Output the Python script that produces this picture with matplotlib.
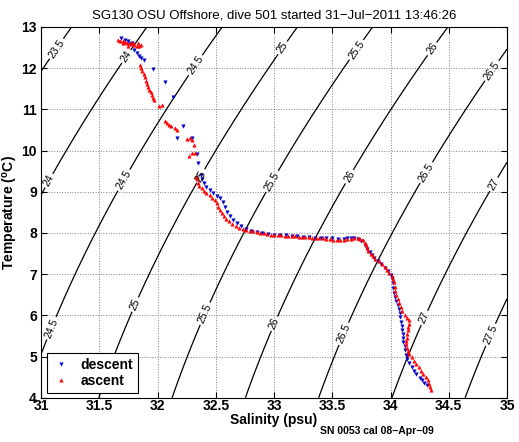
import matplotlib
matplotlib.use("Agg")
import matplotlib.pyplot as plt
import numpy as np

plt.rcParams["font.family"] = ["Liberation Sans", "DejaVu Sans"]

# descent (blue, downward triangles): salinity (psu), temperature (degC)
descent_s = [31.69, 31.72, 31.75, 31.78, 31.76, 31.80, 31.82, 31.84, 31.86, 31.88,
             31.96, 32.06, 32.13, 32.22, 32.17, 32.30, 32.34, 32.35,
             32.37, 32.38, 32.40, 32.42, 32.45, 32.48, 32.51, 32.54, 32.56, 32.58,
             32.60, 32.62, 32.65, 32.68, 32.72, 32.76, 32.80, 32.85, 32.90, 32.95,
             33.00, 33.05, 33.10, 33.15, 33.20, 33.25, 33.30, 33.35, 33.40, 33.45,
             33.50, 33.55, 33.60, 33.63, 33.66, 33.69, 33.72, 33.75, 33.78, 33.80,
             33.82, 33.84, 33.86, 33.89, 33.92, 33.95, 33.98, 34.00, 34.01, 34.02,
             34.02, 34.03, 34.04, 34.05, 34.06, 34.07, 34.08, 34.08, 34.09, 34.10,
             34.10, 34.11, 34.11, 34.11, 34.12, 34.12, 34.13, 34.14, 34.16, 34.18,
             34.20, 34.22, 34.25, 34.27, 34.29, 34.31]
descent_t = [12.72, 12.68, 12.66, 12.62, 12.58, 12.45, 12.38, 12.30, 12.25, 12.20,
             11.98, 11.67, 11.30, 10.60, 10.30, 10.31, 9.92, 9.70,
             9.40, 9.30, 9.22, 9.12, 9.05, 8.97, 8.90, 8.84, 8.75, 8.62,
             8.52, 8.42, 8.32, 8.24, 8.16, 8.10, 8.06, 8.03, 8.00, 7.98,
             7.96, 7.95, 7.94, 7.93, 7.92, 7.91, 7.90, 7.89, 7.88, 7.88,
             7.87, 7.86, 7.86, 7.88, 7.89, 7.89, 7.86, 7.80, 7.70, 7.60,
             7.54, 7.46, 7.40, 7.33, 7.24, 7.16, 7.08, 6.98, 6.90, 6.78,
             6.66, 6.55, 6.45, 6.35, 6.25, 6.15, 6.05, 5.95, 5.85, 5.75,
             5.65, 5.55, 5.45, 5.35, 5.25, 5.15, 5.05, 4.95, 4.85, 4.75,
             4.65, 4.57, 4.48, 4.42, 4.37, 4.32]

# ascent (red, upward triangles)
ascent_s = [31.66, 31.68, 31.70, 31.72, 31.74, 31.76, 31.78, 31.80, 31.82, 31.84,
            31.70, 31.75, 31.79, 31.83, 31.86,
            31.85, 31.86, 31.87, 31.88, 31.89, 31.90, 31.91, 31.92, 31.93, 31.94,
            31.95, 31.96, 31.97, 32.01, 32.04, 32.06, 32.08, 32.10, 32.12, 32.15,
            32.17, 32.25, 32.28, 32.30, 32.31, 32.32, 32.27, 32.30,
            32.33, 32.34, 32.35, 32.36, 32.38, 32.40, 32.42, 32.45, 32.47, 32.49,
            32.51, 32.52, 32.54, 32.55, 32.57, 32.59, 32.61, 32.64, 32.67, 32.70,
            32.73, 32.76, 32.79, 32.82, 32.85, 32.88, 32.91, 32.94, 32.97, 33.00,
            33.03, 33.06, 33.09, 33.12, 33.15, 33.18, 33.21, 33.24, 33.27, 33.30,
            33.33, 33.36, 33.39, 33.42, 33.45, 33.48, 33.51, 33.54, 33.57, 33.60,
            33.63, 33.66, 33.69, 33.72, 33.74, 33.76, 33.78, 33.79, 33.80, 33.81,
            33.83, 33.85, 33.87, 33.90, 33.93, 33.95, 33.97, 33.99, 34.01, 34.02,
            34.03, 34.04, 34.04, 34.05, 34.06, 34.07, 34.09, 34.10, 34.12, 34.14,
            34.16, 34.16, 34.15, 34.15, 34.14, 34.14, 34.13, 34.13, 34.14, 34.15,
            34.16, 34.18, 34.20, 34.22, 34.24, 34.26, 34.28, 34.30, 34.32, 34.33,
            34.34, 34.35]
ascent_t = [12.68, 12.66, 12.65, 12.64, 12.62, 12.60, 12.58, 12.56, 12.55, 12.53,
            12.60, 12.55, 12.62, 12.60, 12.57,
            12.08, 12.00, 11.92, 11.85, 11.78, 11.70, 11.62, 11.55, 11.48, 11.42,
            11.35, 11.28, 11.22, 11.08, 11.10, 10.72, 10.68, 10.62, 10.60, 10.56,
            10.50, 10.28, 10.30, 10.26, 10.14, 9.94, 9.87, 9.94,
            9.36, 9.30, 9.22, 9.15, 9.08, 9.02, 8.97, 8.92, 8.86, 8.80,
            8.72, 8.64, 8.56, 8.49, 8.42, 8.35, 8.29, 8.22, 8.17, 8.13,
            8.10, 8.08, 8.06, 8.04, 8.02, 8.00, 7.99, 7.97, 7.96, 7.95,
            7.95, 7.94, 7.93, 7.93, 7.92, 7.92, 7.91, 7.91, 7.90, 7.90,
            7.89, 7.89, 7.88, 7.87, 7.86, 7.85, 7.84, 7.83, 7.83, 7.84,
            7.85, 7.86, 7.87, 7.88, 7.86, 7.82, 7.76, 7.70, 7.63, 7.56,
            7.49, 7.43, 7.37, 7.31, 7.25, 7.18, 7.11, 7.04, 6.96, 6.88,
            6.80, 6.70, 6.60, 6.50, 6.40, 6.30, 6.20, 6.10, 6.02, 5.94,
            5.88, 5.80, 5.72, 5.64, 5.55, 5.46, 5.38, 5.30, 5.22, 5.14,
            5.06, 4.98, 4.90, 4.82, 4.74, 4.66, 4.58, 4.50, 4.42, 4.34,
            4.26, 4.20]

sigma_levels = [23.5, 24, 24.5, 25, 25.5, 26, 26.5, 27, 27.5]
label_spots = [(31.12, 12.5), (31.75, 12.25), (32.32, 12.08), (33.07, 12.5),
               (33.68, 12.5), (34.34, 12.5), (34.94, 11.8),
               (31.08, 9.25), (31.7, 9.3), (32.36, 9.4), (32.96, 9.29),
               (33.62, 9.41), (34.34, 9.41), (34.85, 9.24),
               (31.08, 5.7), (31.72, 6.37), (32.36, 6.1), (32.92, 5.9),
               (33.52, 5.65), (34.29, 5.94), (34.76, 5.65)]


def sigma_t(s, t):
    # UNESCO EOS-80 density at surface pressure, minus 1000
    rho_w = (999.842594 + 6.793952e-2 * t - 9.095290e-3 * t**2 + 1.001685e-4 * t**3
             - 1.120083e-6 * t**4 + 6.536332e-9 * t**5)
    a = 8.24493e-1 - 4.0899e-3 * t + 7.6438e-5 * t**2 - 8.2467e-7 * t**3 + 5.3875e-9 * t**4
    b = -5.72466e-3 + 1.0227e-4 * t - 1.6546e-6 * t**2
    c = 4.8314e-4
    return rho_w + a * s + b * s**1.5 + c * s**2 - 1000.0


fig = plt.figure(figsize=(5.19, 4.42), dpi=100)
ax = fig.add_axes([0.079, 0.1, 0.898, 0.839])

sg, tg = np.meshgrid(np.linspace(31, 35, 300), np.linspace(4, 13, 300))
cs = ax.contour(sg, tg, sigma_t(sg, tg), levels=sigma_levels, colors="k", linewidths=0.9)
ax.clabel(cs, fmt="%g", fontsize=7.5, inline=True, inline_spacing=2, manual=label_spots)

ax.plot(descent_s, descent_t, "v", color="#0000c8", ms=2.5, mew=0.3, ls="none", label="descent")
ax.plot(ascent_s, ascent_t, "^", color="#ff0000", ms=2.5, mew=0.3, ls="none", label="ascent")

ax.set_xlim(31, 35)
ax.set_ylim(4, 13)
ax.set_xticks(np.arange(31, 35.01, 0.5))
ax.set_xticklabels(["31", "31.5", "32", "32.5", "33", "33.5", "34", "34.5", "35"])
ax.set_yticks(range(4, 14))
ax.grid(True, ls=":", color="#808080", lw=0.7)
ax.set_axisbelow(True)
ax.tick_params(direction="in", length=4, top=True, right=True, labelsize=10)
ax.tick_params(axis="x", pad=1)
ax.tick_params(axis="y", pad=3)
for lab in ax.get_xticklabels() + ax.get_yticklabels():
    lab.set_fontweight("bold")
for sp in ax.spines.values():
    sp.set_linewidth(0.8)

ax.set_xlabel("Salinity (psu)", fontsize=10, fontweight="bold", labelpad=0)
ax.set_ylabel("Temperature ($\\mathregular{^o}$C)", fontsize=10, fontweight="bold", labelpad=1)
ax.set_title("SG130 OSU Offshore, dive 501 started 31\u2212Jul\u22122011 13:46:26", fontsize=9.5, pad=6)

leg = ax.legend(loc="lower left", bbox_to_anchor=(0.005, 0.003), borderaxespad=0.3,
                fancybox=False, edgecolor="k", framealpha=1, handlelength=1.4,
                handletextpad=0.7, prop={"weight": "bold", "size": 10}, markerscale=1.0,
                borderpad=0.3, labelspacing=0.2)
leg.get_frame().set_linewidth(0.8)

fig.text(0.617, 0.025, "SN 0053 cal 08\u2212Apr\u221209", fontsize=7.5, fontweight="bold", va="center")

fig.savefig("out.png", dpi=100)
